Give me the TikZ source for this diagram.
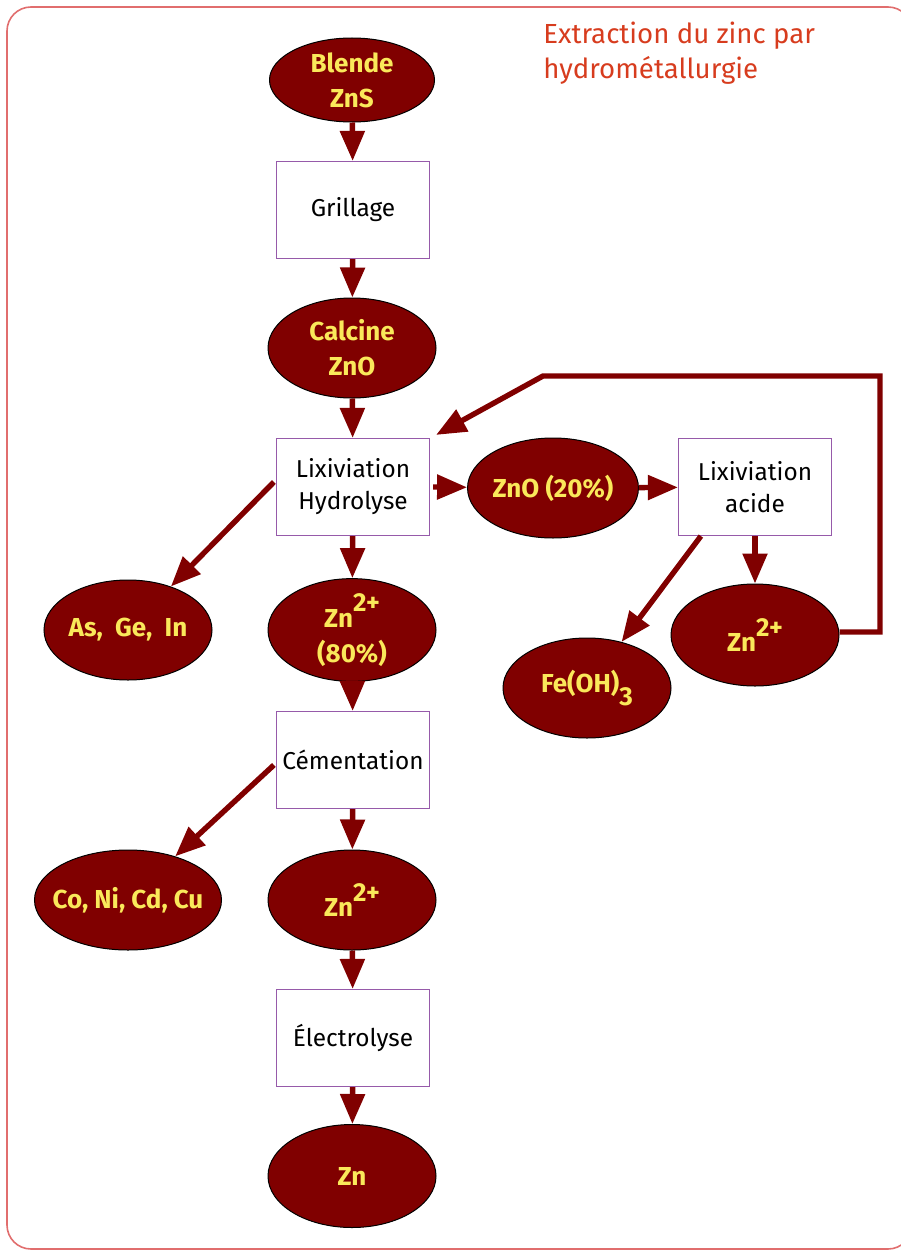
\documentclass[tikz,border=0pt]{standalone}
\usepackage{fontspec}
\setmainfont{Fira Sans}
\usetikzlibrary{shapes.geometric,arrows.meta,calc}
\definecolor{maroon}{RGB}{128,0,0}
\definecolor{yel}{RGB}{250,232,90}
\definecolor{boxc}{RGB}{150,90,170}
\definecolor{titc}{RGB}{215,60,30}
\definecolor{framec}{RGB}{225,110,110}
\begin{document}
\begin{tikzpicture}[x=0.5pt,y=-0.5pt,
 oval/.style={ellipse,draw=black,line width=0.5pt,fill=maroon,text=yel,font=\bfseries\fontsize{13}{17.5}\selectfont,minimum width=84pt,minimum height=50pt,inner sep=0pt,align=center},
 stepbox/.style={rectangle,draw=boxc,line width=0.6pt,fill=white,minimum width=76.5pt,minimum height=48.5pt,inner sep=0pt,align=center,font=\fontsize{12.2}{16}\selectfont},
 arr/.style={draw=maroon,line width=2.7pt,-{Triangle[length=15pt,width=12pt]}}]
\useasboundingbox (0,0) rectangle (900,1252);
\draw[framec,line width=0.8pt,rounded corners=12pt] (7,7) rectangle (912,1249);
\node[anchor=north west,align=left,text=titc,font=\fontsize{13.8}{17.5}\selectfont,inner sep=0pt] (title) at (543,22) {Extraction du zinc par\\hydrométallurgie};
% nodes
\node[oval,minimum width=82.5pt,minimum height=42pt] (blende) at (352,80) {Blende\\ZnS};
\node[stepbox] (grill) at (353,210) {Grillage};
\node[oval] (calc) at (352,348) {Calcine\\ZnO};
\node[stepbox] (lixh) at (353,487) {Lixiviation\\Hydrolyse};
\node[oval] (zno) at (553,488) {ZnO (20\%)};
\node[stepbox] (lixa) at (755,487) {Lixiviation\\acide};
\node[oval] (asge) at (128,630) {As,~~Ge,~~In};
\node[oval,minimum height=51pt] (zn80) at (352,630) {Zn\raisebox{.6em}{2+}\\(80\%)};
\node[oval,minimum height=51pt] (znr) at (755,635) {Zn\raisebox{.6em}{2+}};
\node[oval] (feoh) at (587,688) {Fe(OH)\raisebox{-.5em}{3}};
\node[stepbox] (cem) at (353,760) {Cémentation};
\node[oval,minimum width=93.5pt,inner xsep=-20pt] (conicu) at (128,900) {Co, Ni, Cd, Cu};
\node[oval] (zn2) at (352,900) {Zn\raisebox{.6em}{2+}};
\node[stepbox] (elec) at (353,1038) {Électrolyse};
\node[oval,minimum height=51.5pt] (zn) at (352,1176) {Zn};
% connectors
\draw[arr] (blende) -- (grill);
\draw[arr] (grill) -- (calc);
\draw[arr] (calc) -- (lixh);
\draw[arr] (lixh) -- (zn80);
\draw[arr] (zn80) -- (cem);
\draw[arr] (cem) -- (zn2);
\draw[arr] (zn2) -- (elec);
\draw[arr] (elec) -- (zn);
\draw[arr] ([xshift=1.5pt]lixh.east) -- (zno);
\draw[arr] (zno) -- (lixa);
\draw[arr] (lixa) -- (znr);
\draw[arr] ([xshift=-1pt,yshift=2.5pt]lixh.west) -- (asge);
\draw[arr] ([xshift=11.5pt]lixa.south west) -- (feoh);
\draw[arr] ([xshift=-1pt,yshift=-2.5pt]cem.west) -- (conicu);
\coordinate (fb1) at (880,376);
\coordinate (fb2) at (543,376);
\draw[arr,line join=miter] ([yshift=1.5pt]znr.east) -| (fb1) -- (fb2) -- ([xshift=3pt,yshift=1.5pt]lixh.north east);
\end{tikzpicture}
\end{document}
